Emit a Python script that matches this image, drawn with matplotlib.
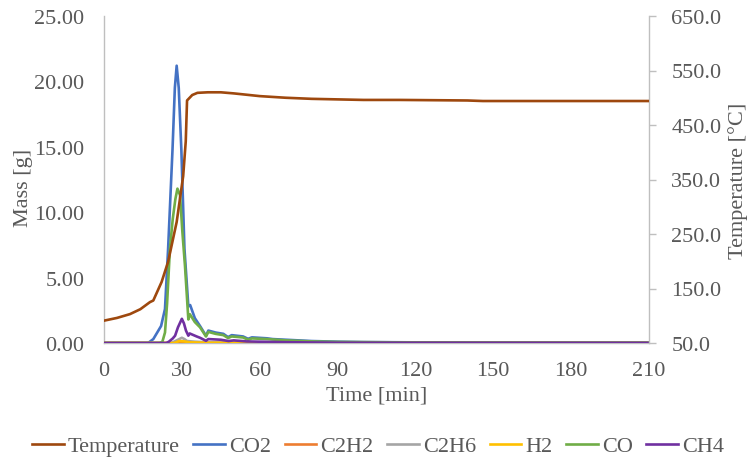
import matplotlib
matplotlib.use("Agg")
import matplotlib.pyplot as plt

plt.rcParams['font.family'] = ['Liberation Serif', 'DejaVu Serif']

# Temperature series (right axis)
time_T = [0, 5, 10, 14, 17.7, 19, 22.2, 24.7, 28, 30.5, 31.5, 32, 34, 36, 40, 45, 50, 56, 60, 70, 80, 90, 100, 114, 140, 146, 160, 180, 210]
temp = [91, 96, 103, 112, 125, 128, 162, 199, 272, 356, 420, 495, 505, 509, 510, 510, 508, 505, 503, 500, 498, 497, 496, 496, 495, 494, 494, 494, 494]

# Mass series (left axis)
t_co2 = [0, 17, 19, 20.5, 22, 23.5, 24.7, 26.4, 27.3, 28, 28.8, 29.8, 31, 32.5, 33.2, 35, 37, 39.3, 40.2, 43, 46, 47.8, 49.2, 53.6, 55.5, 57, 62.7, 65, 70, 75, 80, 90, 100, 120, 150, 210]
co2 = [0, 0, 0.3, 0.8, 1.3, 2.6, 7.2, 14.8, 19.5, 21.2, 19.5, 14.8, 7.2, 2.8, 2.9, 1.9, 1.3, 0.55, 0.95, 0.8, 0.7, 0.45, 0.6, 0.5, 0.32, 0.43, 0.36, 0.3, 0.25, 0.2, 0.15, 0.1, 0.07, 0.05, 0.03, 0.02]

t_co = [0, 21.5, 22.5, 23.5, 24.3, 25.4, 26.5, 27.5, 28.3, 29.3, 30.2, 31.2, 32.5, 33.1, 35, 37, 39.3, 40.2, 43, 46, 47.8, 49.2, 53.6, 55.5, 57, 62.7, 70, 80, 90, 120, 210]
co = [0, 0, 0.1, 0.8, 3.0, 7.2, 9.5, 11.0, 11.8, 11.3, 8.5, 5.9, 1.8, 2.2, 1.6, 1.2, 0.5, 0.85, 0.7, 0.6, 0.38, 0.5, 0.42, 0.25, 0.35, 0.3, 0.2, 0.12, 0.08, 0.04, 0.02]

t_ch4 = [0, 24, 25, 26.5, 27.4, 28.5, 30, 30.8, 31.6, 32.5, 33, 35.7, 37, 39.3, 40.2, 45, 48, 50, 55, 60, 70, 80, 90, 210]
ch4 = [0, 0, 0.1, 0.35, 0.56, 1.2, 1.85, 1.5, 0.94, 0.56, 0.73, 0.5, 0.4, 0.17, 0.3, 0.25, 0.15, 0.2, 0.12, 0.1, 0.06, 0.04, 0.02, 0.01]

t_c2h6 = [0, 26, 28, 30, 31, 32, 35, 40, 50, 210]
c2h6 = [0, 0, 0.2, 0.4, 0.3, 0.15, 0.1, 0.05, 0.03, 0]

t_h2 = [0, 27, 29, 31, 33, 40, 210]
h2 = [0, 0, 0.15, 0.12, 0.05, 0.02, 0]

t_c2h2 = [0, 28, 30, 32, 40, 210]
c2h2 = [0, 0, 0.05, 0.03, 0, 0]

x_ticks = [0, 30, 60, 90, 120, 150, 180, 210]
mass_ticks = [0, 5, 10, 15, 20, 25]
temp_ticks = [50, 150, 250, 350, 450, 550, 650]

C_TEMP = '#9E480E'
C_CO2 = '#4472C4'
C_C2H2 = '#ED7D31'
C_C2H6 = '#A5A5A5'
C_H2 = '#FFC000'
C_CO = '#70AD47'
C_CH4 = '#7030A0'
TXT = '#595959'
AX = '#BFBFBF'

fig = plt.figure(figsize=(7.49, 4.60), dpi=100)
ax = fig.add_axes([104/749, 1-344/460, (649-104)/749, (344-17)/460])
lw = 1.9
ax.plot(t_co2, co2, color=C_CO2, lw=lw, label='CO2', zorder=3)
ax.plot(t_c2h2, c2h2, color=C_C2H2, lw=lw, label='C2H2', zorder=3)
ax.plot(t_c2h6, c2h6, color=C_C2H6, lw=lw, label='C2H6', zorder=3)
ax.plot(t_h2, h2, color=C_H2, lw=lw, label='H2', zorder=3)
ax.plot(t_co, co, color=C_CO, lw=lw, label='CO', zorder=3)
ax.plot(t_ch4, ch4, color=C_CH4, lw=lw, label='CH4', zorder=3)

ax.set_xlim(0, 210)
ax.set_ylim(0, 25)
ax.set_xticks(x_ticks)
ax.set_yticks(mass_ticks)
ax.set_yticklabels([f'{v:.2f}' for v in mass_ticks])

ax2 = ax.twinx()
ax2.plot(time_T, temp, color=C_TEMP, lw=lw, label='Temperature', zorder=4)
ax2.set_ylim(50, 650)
ax2.set_yticks(temp_ticks)
ax2.set_yticklabels([f'{v:.1f}' for v in temp_ticks])

fs = 16
ax.tick_params(length=0, labelsize=fs, colors=TXT)
ax.tick_params(axis='y', pad=14)
ax.tick_params(axis='x', pad=13)
ax2.tick_params(axis='y', length=5, width=1.0, color=AX, labelsize=fs, labelcolor=TXT, pad=11)
for a in (ax, ax2):
    a.spines['top'].set_visible(False)
    for s in ('left', 'right', 'bottom'):
        a.spines[s].set_color(AX)
        a.spines[s].set_linewidth(1.0)
ax.spines['right'].set_visible(False)
ax2.spines['left'].set_visible(False)
ax2.spines['bottom'].set_visible(False)

ax.set_xlabel('Time [min]', fontsize=fs, color=TXT, labelpad=4)
ax.set_ylabel('Mass [g]', fontsize=fs, color=TXT)
ax2.set_ylabel('Temperature [°C]', fontsize=fs, color=TXT)
ax.yaxis.set_label_coords((33-104)/545, (344-188)/327)
ax2.yaxis.set_label_coords((728.5-104)/545, 0.5)

h1, l1 = ax.get_legend_handles_labels()
h2_, l2 = ax2.get_legend_handles_labels()
leg = fig.legend(h2_ + h1, l2 + l1, loc='center', bbox_to_anchor=(378/749, 1-447/460),
                 ncol=7, frameon=False, fontsize=fs, handlelength=1.42, handletextpad=0.18,
                 columnspacing=0.62, borderpad=0)
for t in leg.get_texts():
    t.set_color(TXT)

fig.savefig('out.png', dpi=100)
